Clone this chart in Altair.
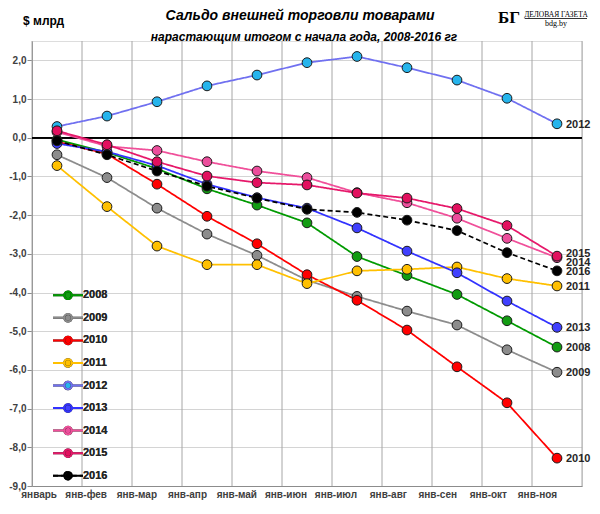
import altair as alt
import pandas as pd

months = ["январь", "янв-фев", "янв-мар", "янв-апр", "янв-май", "янв-июн",
          "янв-июл", "янв-авг", "янв-сен", "янв-окт", "янв-ноя"]
years = ["2008", "2009", "2010", "2011", "2012", "2013", "2014", "2015", "2016"]

v2008 = [-0.05, -0.38, -0.80, -1.32, -1.74, -2.20, -3.07, -3.56, -4.05, -4.73, -5.41]
v2009 = [-0.44, -1.03, -1.82, -2.49, -3.04, -3.68, -4.10, -4.48, -4.84, -5.48, -6.06]
v2010 = [-0.10, -0.42, -1.20, -2.03, -2.74, -3.54, -4.20, -4.97, -5.92, -6.85, -8.28]
v2011 = [-0.72, -1.78, -2.80, -3.28, -3.28, -3.77, -3.44, -3.40, -3.34, -3.64, -3.83]
v2012 = [0.29, 0.56, 0.93, 1.34, 1.62, 1.94, 2.10, 1.81, 1.49, 1.02, 0.36]
v2013 = [-0.15, -0.36, -0.72, -1.20, -1.55, -1.82, -2.33, -2.93, -3.49, -4.22, -4.90]
v2014 = [0.15, -0.22, -0.33, -0.62, -0.86, -1.03, -1.42, -1.68, -2.08, -2.60, -3.10]
v2015 = [0.18, -0.18, -0.62, -0.99, -1.16, -1.22, -1.43, -1.56, -1.83, -2.27, -3.06]
v2016 = [-0.08, -0.44, -0.86, -1.25, -1.56, -1.85, -1.93, -2.13, -2.40, -2.97, -3.44]
series = [v2008, v2009, v2010, v2011, v2012, v2013, v2014, v2015, v2016]

line_colors = ["#009a00", "#8c8c8c", "#ff0000", "#ffc000", "#7070f0",
               "#3232ff", "#f0509a", "#e6186a", "#000000"]
marker_colors = ["#129c12", "#8c8c8c", "#ff0000", "#ffc000", "#26b4ec",
                 "#4040ff", "#ec4e9c", "#e2105e", "#000000"]
dashes = [[1, 0]] * 8 + [[5, 3]]

y_ticks = [-9, -8, -7, -6, -5, -4, -3, -2, -1, 0, 1, 2]

rows = []
for yr, vals in zip(years, series):
    for i, (m, v) in enumerate(zip(months, vals)):
        rows.append({"year": yr, "month": m, "value": v, "idx": i})
df = pd.DataFrame(rows)
mdf = pd.DataFrame({"month": months})

FONT = "Liberation Sans"
TXT = "#262626"

xscale = alt.Scale(type="band", domain=months, paddingInner=0, paddingOuter=0)
yscale = alt.Scale(domain=[-9, 2.5], nice=False, zero=False)

x_enc = alt.X("month:N", scale=xscale, sort=months,
              axis=alt.Axis(title=None, grid=False, ticks=False, domain=True,
                            domainColor="#8c8c8c", labelFont=FONT, labelFontSize=10,
                            labelFontWeight="bold", labelColor="#404040",
                            labelPadding=8, labelAngle=0, labelOverlap=False))
y_enc = alt.Y("value:Q", scale=yscale,
              axis=alt.Axis(title=None, values=y_ticks, grid=True, gridColor="#d4d4d4",
                            domainColor="#8c8c8c", tickColor="#8c8c8c", tickSize=5,
                            labelFont=FONT, labelFontSize=10, labelFontWeight="bold",
                            labelColor="#404040", labelPadding=1, labelOverlap=False,
                            labelExpr="(datum.value < 0 ? '-' : '') + replace(format(abs(datum.value), '.1f'), '.', ',')"))

sym_path = ("M-3,0L-0.75,0M0.75,0L3,0"
            "M-0.75,0A0.75,0.75 0 1 1 0.75,0A0.75,0.75 0 1 1 -0.75,0")
leg = alt.Legend(title=None, orient="none", legendX=30, legendY=248.3, padding=0,
                 symbolType=sym_path, symbolSize=100, symbolStrokeWidth=2,
                 labelFont=FONT, labelFontSize=11, labelFontWeight="bold",
                 labelColor=TXT, labelOffset=9, rowPadding=6.55)

grid_v = alt.Chart(mdf).mark_rule(color="#a6a6a6", strokeWidth=1).encode(
    x=alt.X("month:N", scale=xscale, sort=months, bandPosition=0))
grid_r = alt.Chart(mdf).mark_rule(color="#a6a6a6", strokeWidth=1).encode(
    x=alt.X("month:N", scale=xscale, sort=months, bandPosition=1)
).transform_filter(alt.datum.month == months[-1])
zero = alt.Chart(mdf).mark_rule(color="#000000", strokeWidth=1).encode(y=alt.datum(0))

base = alt.Chart(df)
lines = base.mark_line(strokeWidth=1.75).encode(
    x=x_enc, y=y_enc,
    color=alt.Color("year:N", scale=alt.Scale(domain=years, range=line_colors), legend=leg),
    strokeDash=alt.StrokeDash("year:N", scale=alt.Scale(domain=years, range=dashes), legend=leg),
    order=alt.Order("idx:Q"),
)
points = base.mark_point(filled=True, shape="circle", size=95, stroke="#1a1a1a",
                         strokeWidth=1, opacity=1).encode(
    x=x_enc, y=y_enc,
    fill=alt.Fill("year:N", scale=alt.Scale(domain=years, range=marker_colors), legend=leg),
)

last = base.transform_filter(alt.datum.month == months[-1])
lab_main = last.transform_filter(
    (alt.datum.year != "2014") & (alt.datum.year != "2015")
).mark_text(align="left", baseline="middle", dx=9, dy=1, font=FONT, fontSize=11,
            fontWeight="bold", color=TXT).encode(x=x_enc, y=y_enc, text="year:N")
lab_2014 = last.transform_filter(alt.datum.year == "2014").mark_text(
    align="left", baseline="middle", dx=9, dy=5, font=FONT, fontSize=11,
    fontWeight="bold", color=TXT).encode(x=x_enc, y=y_enc, text="year:N")
lab_2015 = last.transform_filter(alt.datum.year == "2015").mark_text(
    align="left", baseline="middle", dx=9, dy=-2, font=FONT, fontSize=11,
    fontWeight="bold", color=TXT).encode(x=x_enc, y=y_enc, text="year:N")

one = pd.DataFrame({"k": [0]})
def note(text, x, y, size, weight="bold", style="normal", font=FONT, align="center"):
    return alt.Chart(one).mark_text(text=text, font=font, fontSize=size, fontWeight=weight,
                                    fontStyle=style, color="#000000", align=align,
                                    baseline="middle").encode(x=alt.value(x), y=alt.value(y))

title1 = note("Сальдо внешней торговли товарами", 268, -25, 14, style="italic")
title2 = note("нарастающим итогом с начала года, 2008-2016 гг", 272, -4, 12, style="italic")
units = note("$ млрд", -9, -20, 12, align="left")
logo1 = note("БГ", 477, -23.5, 17, font="Liberation Serif")
logo2 = note("ДЕЛОВАЯ ГАЗЕТА", 524, -26.5, 7.5, weight="normal", font="Liberation Serif")
logo3 = note("bdg.by", 524, -17, 8, weight="normal", font="Liberation Serif")
logo_ul = alt.Chart(one).mark_rule(color="#000000", strokeWidth=0.8).encode(
    x=alt.value(493), x2=alt.value(555), y=alt.value(-22.5))

chart = alt.layer(
    grid_v, grid_r, zero, lines, points, lab_main, lab_2014, lab_2015,
    title1, title2, units, logo1, logo2, logo3, logo_ul
).resolve_scale(color="independent").properties(
    width=550, height=445,
    autosize=alt.AutoSizeParams(type="none"),
    padding={"left": 24, "top": 33, "right": 10, "bottom": 20},
).configure_view(stroke=None).configure(background="#ffffff")

chart.save("out.html", embed_options={"renderer": "svg", "actions": False})
